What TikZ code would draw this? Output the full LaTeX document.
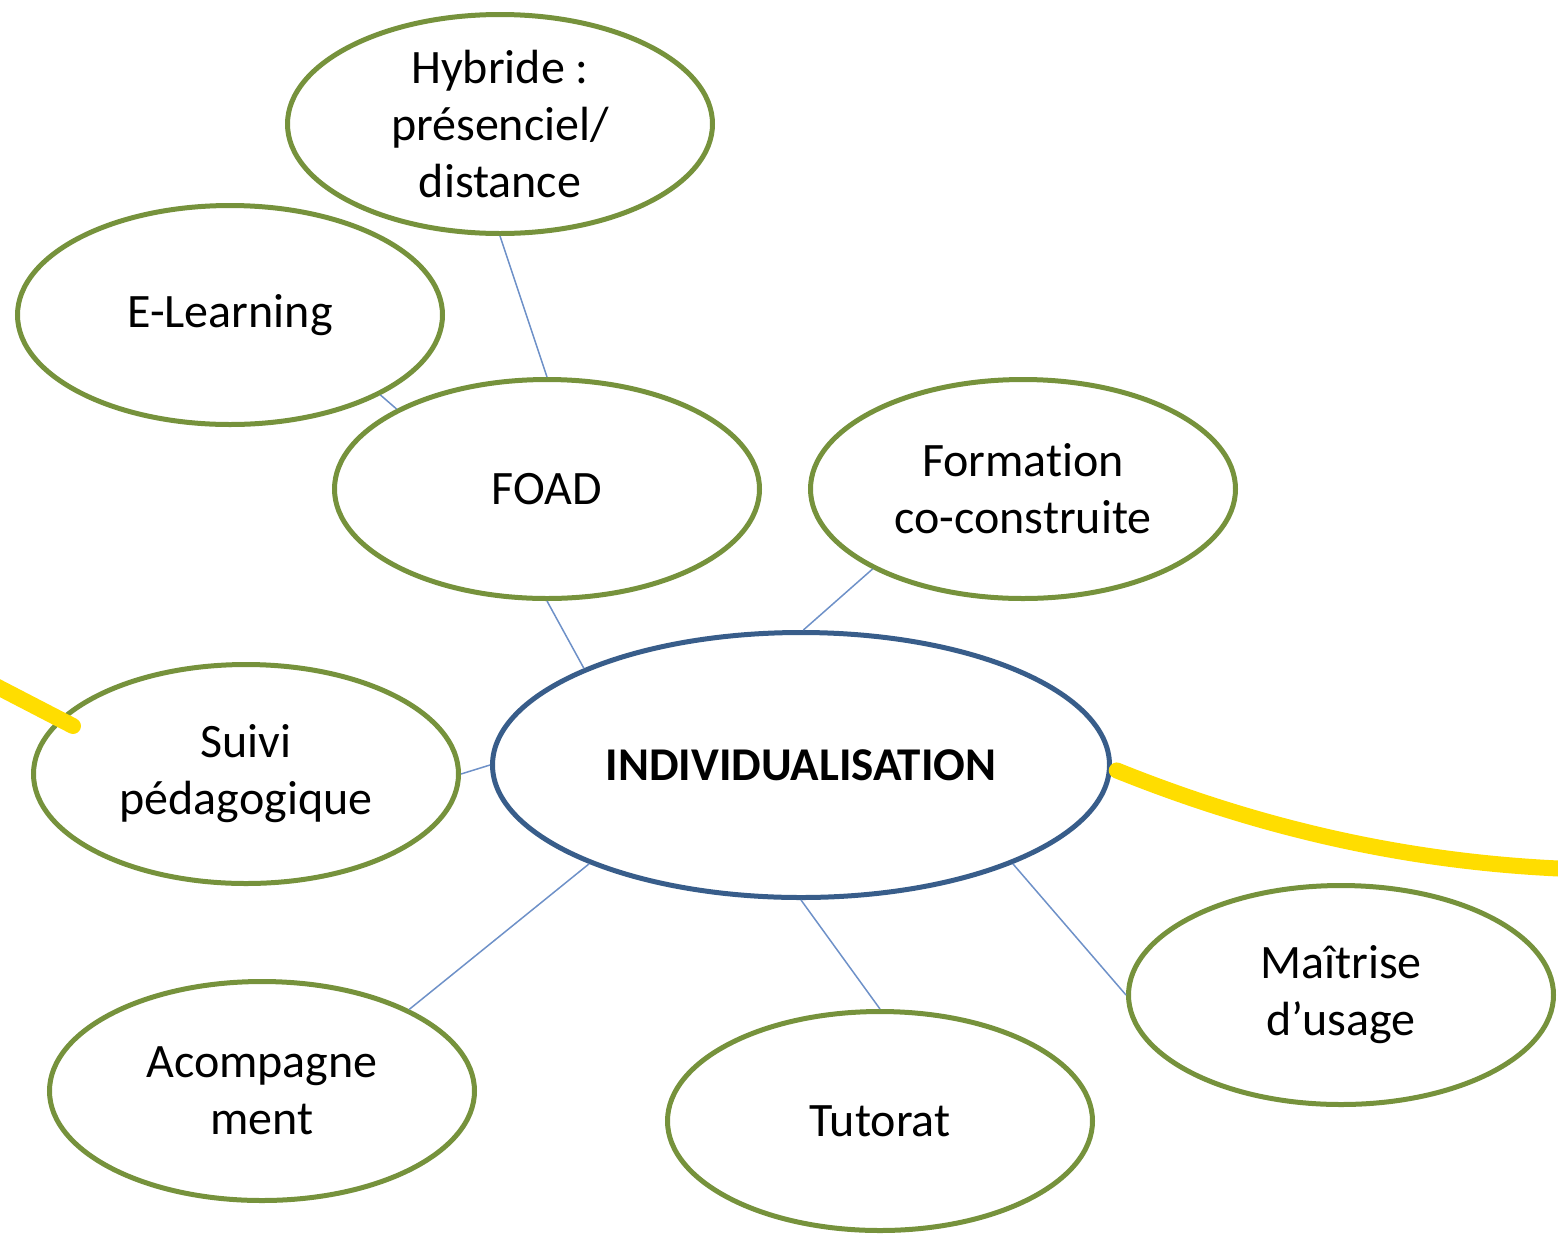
\documentclass[tikz,border=0pt]{standalone}
\usepackage{fontspec}
\setmainfont{Carlito}[Ligatures=NoCommon]
\usepackage{xcolor}
\usepackage{tikz}
\usetikzlibrary{shapes,arrows,positioning,calc}

\definecolor{bubblegreen}{RGB}{118,146,60}
\definecolor{centreblue}{RGB}{56,93,138}
\definecolor{linkblue}{RGB}{110,145,200}
\definecolor{markyellow}{RGB}{255,221,0}
\definecolor{markred}{RGB}{235,120,130}

\begin{document}
\begin{tikzpicture}[x=1pt, y=-1pt,
        bubble/.style={ellipse, draw=bubblegreen, line width=5pt, minimum width=425pt, minimum height=219pt, inner sep=0pt, align=center, font=\fontsize{48}{57}\selectfont},
        centre/.style={ellipse, draw=centreblue, line width=5pt, minimum width=617pt, minimum height=265pt, inner sep=0pt, font=\fontsize{47}{57}\selectfont\bfseries},
        link/.style={draw=linkblue, line width=1.5pt},
        marker/.style={draw=markyellow, line width=16pt, line cap=round}]
        \useasboundingbox (0,0) rectangle (1558,1235);

        % Centre
        \node[centre] (indiv) at (801,765) {INDIVIDUALISATION};

        % Bubbles
        \node[bubble] (hybride) at (500,124) {Hybride :\\présenciel/\\distance};
        \node[bubble] (elearning) at (230,315) {E-Learning};
        \node[bubble] (foad) at (547,489) {FOAD};
        \node[bubble] (formation) at (1023,489) {Formation\\co-construite};
        \node[bubble] (suivi) at (246,774) {Suivi\\pédagogique};
        \node[bubble] (acomp) at (262,1091) {Acompagne\\ment};
        \node[bubble] (tutorat) at (880,1121) {Tutorat};
        \node[bubble] (maitrise) at (1341,995) {Maîtrise\\d’usage};

        % Links
        \draw[link] (hybride.south) -- (foad.north);
        \draw[link] (elearning.332) -- (foad.152);
        \draw[link] (foad.south) -- (indiv.156);
        \draw[link] (formation.208) -- (indiv.89);
        \draw[link] (suivi.east) -- (indiv.west);
        \draw[link] (acomp.29) -- (indiv.205);
        \draw[link] (tutorat.north) -- (indiv.south);
        \draw[link] (maitrise.west) -- (indiv.335);

        % Highlighter strokes
        \coordinate (leftend) at (-10,683);
        \coordinate (rightend) at (1570,869);
        \draw[marker] (leftend) -- (73,726);
        \draw[marker] ([xshift=5pt]indiv.-1.5) .. controls (1267,831) and (1416,863) .. (rightend);
        \draw[line width=6pt, markred, line cap=round] (1260,-3) -- (1284,-3);
    \end{tikzpicture}
\end{document}
